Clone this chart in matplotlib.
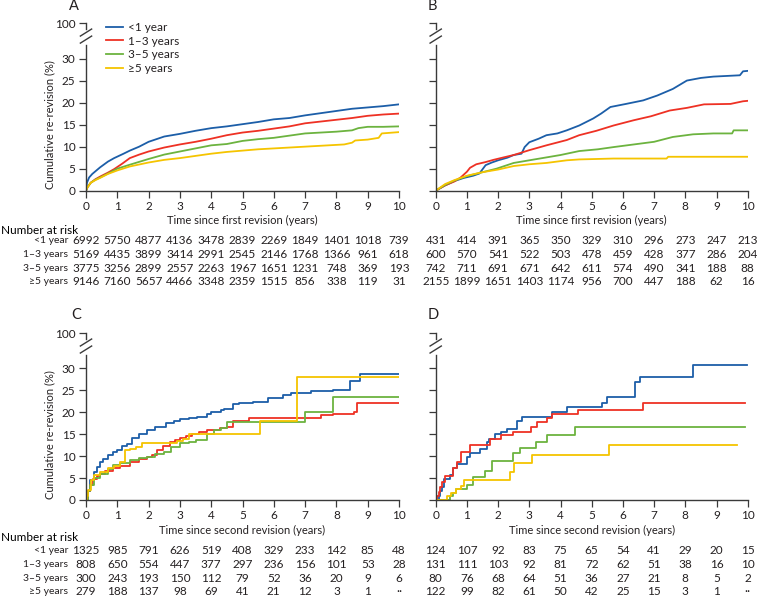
import matplotlib
matplotlib.use('Agg')
import matplotlib.pyplot as plt
import matplotlib.transforms as mtransforms

plt.rcParams['font.family'] = ['Lato', 'DejaVu Sans']

W, H = 757, 598

groups = ['<1 year', '1–3 years', '3–5 years', '≥5 years']
colors = ['#1c5ea8', '#ee3124', '#6cb33f', '#f5c400']
years = list(range(11))

# ---- panel A: time since first revision (curves)
a_lt1_t = [0, 0.03, 0.1, 0.2, 0.3, 0.45, 0.7, 0.9, 1.2, 1.4, 1.7, 2.0, 2.5, 3.0, 3.5, 4.0, 4.5, 5.0, 5.5, 6.0, 6.5, 7.0, 7.5, 8.0, 8.5, 9.0, 9.5, 10.0]
a_lt1_v = [0, 1.8, 3.0, 3.8, 4.4, 5.3, 6.6, 7.4, 8.4, 9.1, 10.0, 11.1, 12.3, 12.9, 13.6, 14.2, 14.6, 15.1, 15.6, 16.2, 16.5, 17.1, 17.6, 18.1, 18.6, 18.9, 19.2, 19.6]
a_1to3_t = [0, 0.05, 0.15, 0.3, 0.45, 0.7, 0.9, 1.15, 1.4, 1.7, 2.0, 2.5, 3.0, 3.5, 4.0, 4.5, 5.0, 5.5, 6.0, 6.5, 7.0, 7.5, 8.0, 8.5, 9.0, 9.5, 10.0]
a_1to3_v = [0, 0.8, 1.8, 2.6, 3.2, 4.1, 4.9, 6.1, 7.4, 8.2, 8.9, 9.8, 10.5, 11.1, 11.8, 12.6, 13.2, 13.6, 14.1, 14.6, 15.3, 15.7, 16.1, 16.5, 17.0, 17.3, 17.5]
a_3to5_t = [0, 0.05, 0.15, 0.3, 0.45, 0.7, 1.0, 1.4, 2.0, 2.5, 3.0, 3.5, 4.0, 4.5, 5.0, 5.5, 6.0, 6.5, 7.0, 7.5, 8.0, 8.5, 8.7, 9.0, 9.5, 10.0]
a_3to5_v = [0, 0.8, 1.8, 2.5, 3.0, 3.9, 5.0, 5.9, 7.2, 8.2, 8.9, 9.6, 10.3, 10.6, 11.3, 11.7, 12.0, 12.5, 13.0, 13.2, 13.4, 13.7, 14.2, 14.5, 14.5, 14.6]
a_ge5_t = [0, 0.05, 0.15, 0.3, 0.45, 0.7, 1.0, 1.4, 2.0, 2.5, 3.0, 3.5, 4.0, 4.5, 5.0, 5.5, 6.0, 6.5, 7.0, 7.5, 8.0, 8.25, 8.5, 8.6, 9.0, 9.35, 9.45, 10.0]
a_ge5_v = [0, 0.8, 1.8, 2.4, 2.9, 3.8, 4.6, 5.5, 6.4, 7.0, 7.4, 7.9, 8.4, 8.8, 9.1, 9.4, 9.6, 9.8, 10.0, 10.2, 10.4, 10.5, 10.9, 11.4, 11.6, 12.0, 13.0, 13.3]

# ---- panel B
b_lt1_t = [0, 0.3, 0.6, 0.9, 1.2, 1.4, 1.6, 1.8, 2.0, 2.3, 2.5, 2.75, 2.85, 3.0, 3.3, 3.55, 3.9, 4.2, 4.6, 5.05, 5.3, 5.6, 6.1, 6.65, 7.1, 7.6, 8.05, 8.5, 8.9, 9.75, 9.85, 10.0]
b_lt1_v = [0, 1.2, 2.2, 2.9, 3.4, 3.9, 5.8, 6.4, 6.9, 7.5, 8.1, 8.4, 9.9, 11.0, 11.8, 12.6, 13.0, 13.7, 14.8, 16.4, 17.5, 19.0, 19.7, 20.5, 21.6, 23.1, 25.0, 25.6, 25.9, 26.2, 27.1, 27.2]
b_1to3_t = [0, 0.3, 0.6, 0.8, 1.0, 1.1, 1.3, 1.6, 1.85, 2.2, 2.5, 3.0, 3.55, 4.2, 4.6, 5.15, 5.7, 6.35, 6.9, 7.5, 8.05, 8.6, 9.45, 9.85, 10.0]
b_1to3_v = [0, 1.2, 2.1, 3.0, 4.3, 5.2, 6.0, 6.5, 7.0, 7.6, 8.1, 9.2, 10.3, 11.5, 12.6, 13.6, 14.8, 16.0, 16.9, 18.2, 18.8, 19.6, 19.7, 20.3, 20.4]
b_3to5_t = [0, 0.3, 0.6, 1.0, 1.5, 1.95, 2.5, 3.0, 3.5, 4.0, 4.6, 5.2, 5.7, 6.35, 7.0, 7.6, 8.25, 8.9, 9.5, 9.55, 10.0]
b_3to5_v = [0, 1.3, 2.3, 3.3, 4.2, 5.0, 6.3, 6.9, 7.5, 8.1, 9.0, 9.4, 9.9, 10.5, 11.1, 12.2, 12.8, 13.0, 13.0, 13.7, 13.7]
b_ge5_t = [0, 0.3, 0.6, 1.0, 1.5, 2.0, 2.5, 3.0, 3.55, 4.2, 4.6, 5.7, 7.4, 7.45, 10.0]
b_ge5_v = [0, 1.5, 2.4, 3.4, 4.2, 4.8, 5.6, 6.0, 6.3, 6.9, 7.1, 7.3, 7.3, 7.7, 7.7]

# ---- panel C: time since second revision (step curves)
c_lt1_t = [0, 0.05, 0.13, 0.25, 0.34, 0.45, 0.55, 0.7, 0.87, 1.0, 1.15, 1.3, 1.46, 1.7, 1.94, 2.2, 2.57, 2.8, 3.0, 3.3, 3.55, 3.85, 4.0, 4.3, 4.4, 4.7, 4.9, 5.35, 5.8, 6.3, 6.55, 7.2, 7.9, 8.45, 8.75, 10.0]
c_lt1_v = [0, 2.0, 4.5, 6.3, 7.6, 8.6, 9.4, 10.2, 11.0, 11.5, 12.2, 12.8, 14.2, 15.0, 15.9, 16.6, 17.5, 17.9, 18.5, 18.7, 19.0, 19.6, 20.0, 20.5, 20.8, 21.9, 22.1, 22.3, 23.2, 23.9, 24.5, 24.9, 25.0, 27.1, 28.8, 28.8]
c_1to3_t = [0, 0.05, 0.12, 0.23, 0.35, 0.45, 0.6, 0.87, 1.1, 1.4, 1.7, 1.94, 2.1, 2.26, 2.45, 2.68, 2.85, 3.0, 3.2, 3.4, 3.6, 3.85, 4.28, 4.5, 4.7, 5.2, 6.55, 7.5, 7.9, 8.55, 8.65, 10.0]
c_1to3_v = [0, 2.0, 3.5, 4.9, 5.4, 6.0, 6.5, 7.2, 7.8, 8.7, 9.3, 9.8, 10.3, 11.3, 12.3, 13.2, 13.7, 14.2, 14.5, 15.1, 15.5, 15.9, 16.3, 16.6, 18.1, 18.6, 18.8, 19.4, 19.6, 20.0, 22.0, 22.0]
c_3to5_t = [0, 0.05, 0.12, 0.25, 0.45, 0.7, 0.87, 1.1, 1.4, 1.7, 1.94, 2.2, 2.5, 2.7, 3.0, 3.3, 3.5, 3.85, 4.1, 4.3, 4.5, 7.0, 7.9, 10.0]
c_3to5_v = [0, 2.0, 3.5, 5.0, 6.0, 7.0, 7.9, 8.4, 9.1, 9.5, 9.8, 10.4, 11.0, 12.0, 13.0, 13.2, 13.6, 15.1, 15.9, 16.3, 17.7, 20.0, 23.5, 23.5]
c_ge5_t = [0, 0.03, 0.07, 0.15, 0.25, 0.45, 0.7, 0.9, 1.1, 1.25, 1.4, 1.6, 1.8, 2.8, 2.9, 3.1, 3.3, 5.57, 6.73, 10.0]
c_ge5_v = [0, 1.0, 2.3, 4.5, 5.7, 6.4, 7.2, 7.7, 8.7, 11.3, 11.7, 12.1, 13.0, 13.0, 13.5, 14.0, 15.0, 18.0, 28.0, 28.0]

# ---- panel D
d_lt1_t = [0, 0.1, 0.15, 0.2, 0.27, 0.46, 0.57, 0.67, 1.0, 1.1, 1.42, 1.63, 1.72, 1.9, 2.1, 2.27, 2.6, 2.78, 3.72, 4.2, 5.32, 5.48, 6.4, 6.55, 8.26, 9.97]
d_lt1_v = [0, 0.8, 2.0, 3.0, 4.7, 5.7, 7.2, 8.3, 9.8, 10.6, 11.7, 13.2, 13.9, 15.1, 15.5, 16.2, 17.9, 19.0, 20.1, 21.1, 22.2, 23.5, 26.8, 28.1, 30.7, 30.7]
d_1to3_t = [0, 0.05, 0.1, 0.15, 0.2, 0.3, 0.57, 0.67, 0.8, 1.1, 1.74, 2.1, 2.47, 3.06, 3.24, 3.56, 3.72, 4.57, 6.65, 9.91]
d_1to3_v = [0, 1.0, 1.9, 3.0, 4.1, 5.4, 7.4, 8.7, 10.9, 12.6, 13.9, 14.8, 15.6, 16.7, 17.7, 18.7, 19.5, 20.6, 22.0, 22.0]
d_3to5_t = [0, 0.46, 0.55, 0.65, 1.0, 1.2, 1.58, 1.8, 2.47, 2.7, 3.2, 3.58, 4.47, 9.92]
d_3to5_v = [0, 0.8, 1.5, 2.4, 3.5, 5.3, 6.5, 9.0, 10.6, 11.9, 13.2, 14.8, 16.6, 16.6]
d_ge5_t = [0, 0.35, 0.5, 0.65, 0.8, 0.9, 2.38, 2.5, 3.1, 5.55, 9.67]
d_ge5_v = [0, 0.8, 1.6, 2.5, 3.3, 4.5, 6.4, 8.5, 10.3, 12.6, 12.6]

# ---- number at risk
a_risk_lt1 = [6992, 5750, 4877, 4136, 3478, 2839, 2269, 1849, 1401, 1018, 739]
a_risk_1to3 = [5169, 4435, 3899, 3414, 2991, 2545, 2146, 1768, 1366, 961, 618]
a_risk_3to5 = [3775, 3256, 2899, 2557, 2263, 1967, 1651, 1231, 748, 369, 193]
a_risk_ge5 = [9146, 7160, 5657, 4466, 3348, 2359, 1515, 856, 338, 119, 31]
b_risk_lt1 = [431, 414, 391, 365, 350, 329, 310, 296, 273, 247, 213]
b_risk_1to3 = [600, 570, 541, 522, 503, 478, 459, 428, 377, 286, 204]
b_risk_3to5 = [742, 711, 691, 671, 642, 611, 574, 490, 341, 188, 88]
b_risk_ge5 = [2155, 1899, 1651, 1403, 1174, 956, 700, 447, 188, 62, 16]
c_risk_lt1 = [1325, 985, 791, 626, 519, 408, 329, 233, 142, 85, 48]
c_risk_1to3 = [808, 650, 554, 447, 377, 297, 236, 156, 101, 53, 28]
c_risk_3to5 = [300, 243, 193, 150, 112, 79, 52, 36, 20, 9, 6]
c_risk_ge5 = [279, 188, 137, 98, 69, 41, 21, 12, 3, 1, '··']
d_risk_lt1 = [124, 107, 92, 83, 75, 65, 54, 41, 29, 20, 15]
d_risk_1to3 = [131, 111, 103, 92, 81, 72, 62, 51, 38, 16, 10]
d_risk_3to5 = [80, 76, 68, 64, 51, 36, 27, 21, 8, 5, 2]
d_risk_ge5 = [122, 99, 82, 61, 50, 42, 25, 15, 3, 1, '··']

YTOP = 38.0          # where the "100" tick sits above the axis break
TXT = '#231f20'
AXC = '#3a3a3a'


def fy(py):
    return 1 - py / H


fig = plt.figure(figsize=(W / 100, H / 100), dpi=100)
ax_a = fig.add_axes([86 / W, fy(190.7), 313 / W, 167.4 / H])
ax_b = fig.add_axes([435.7 / W, fy(190.7), 312 / W, 167.4 / H])
ax_c = fig.add_axes([86 / W, fy(500), 313 / W, 166.7 / H])
ax_d = fig.add_axes([435.7 / W, fy(500), 312 / W, 166.7 / H])


def draw_panel(ax, curves, step, xlabel, xlabel_py, letter, letter_px, show_ylabels):
    for (t, v), c, lab in zip(curves, colors, groups):
        if step:
            ax.step(t, v, where='post', color=c, lw=1.3, label=lab)
        else:
            ax.plot(t, v, color=c, lw=1.3, label=lab)

    ax.set_xlim(0, 10)
    ax.set_ylim(0, YTOP)
    for s in ['top', 'right']:
        ax.spines[s].set_visible(False)
    for s in ['left', 'bottom']:
        ax.spines[s].set_color(AXC)
        ax.spines[s].set_linewidth(1.0)
    ax.spines['left'].set_bounds(0, 33.0)

    # broken y axis: short upper piece + two slashes
    bt = mtransforms.blended_transform_factory(ax.transAxes, ax.transData)
    ax.plot([0, 0], [36.6, YTOP], color=AXC, lw=1.0, transform=bt, clip_on=False)
    for yc in (34.3, 35.9):
        ax.plot([-0.018, 0.018], [yc - 0.8, yc + 0.8], color=AXC, lw=1.0,
                transform=bt, clip_on=False)

    ax.set_xticks(years)
    ax.set_yticks([0, 5, 10, 15, 20, 25, 30, YTOP])
    ax.tick_params(direction='out', length=5, width=0.9, color=AXC,
                   labelsize=8.5, labelcolor=TXT, pad=2.5)
    if show_ylabels:
        ax.set_yticklabels(['0', '5', '10', '15', '20', '25', '30', '100'])
        ax.text(-0.115, 15, 'Cumulative re-revision (%)', transform=bt,
                rotation=90, ha='center', va='center', fontsize=8, color=TXT)
    else:
        ax.set_yticklabels([])

    xt = mtransforms.blended_transform_factory(ax.transData, fig.transFigure)
    ax.text(5, fy(xlabel_py), xlabel, transform=xt, ha='center', va='center',
            fontsize=8, color=TXT)
    fig.text(letter_px[0] / W, fy(letter_px[1]), letter, ha='left', va='center',
             fontsize=10.5, color=TXT)


def draw_risk(ax, rows, header_py, row_py, show_labels):
    xt = mtransforms.blended_transform_factory(ax.transData, fig.transFigure)
    if show_labels:
        fig.text(0.001, fy(header_py), 'Number at risk', ha='left', va='center',
                 fontsize=8.5, color='black')
    for row, lab, py in zip(rows, groups, row_py):
        if show_labels:
            fig.text(68 / W, fy(py), lab, ha='right', va='center', fontsize=7.5, color=TXT)
        for x, n in zip(years, row):
            ax.text(x, fy(py), str(n), transform=xt, ha='center', va='center',
                    fontsize=8.5, color=TXT)


draw_panel(ax_a, [(a_lt1_t, a_lt1_v), (a_1to3_t, a_1to3_v), (a_3to5_t, a_3to5_v), (a_ge5_t, a_ge5_v)],
           False, 'Time since first revision (years)', 220, 'A', (69, 6), True)
draw_panel(ax_b, [(b_lt1_t, b_lt1_v), (b_1to3_t, b_1to3_v), (b_3to5_t, b_3to5_v), (b_ge5_t, b_ge5_v)],
           False, 'Time since first revision (years)', 220, 'B', (428, 6), False)
draw_panel(ax_c, [(c_lt1_t, c_lt1_v), (c_1to3_t, c_1to3_v), (c_3to5_t, c_3to5_v), (c_ge5_t, c_ge5_v)],
           True, 'Time since second revision (years)', 530, 'C', (71, 315), True)
draw_panel(ax_d, [(d_lt1_t, d_lt1_v), (d_1to3_t, d_1to3_v), (d_3to5_t, d_3to5_v), (d_ge5_t, d_ge5_v)],
           True, 'Time since second revision (years)', 530, 'D', (428, 315), False)

ab_rows = [240.7, 254.3, 268.3, 281.7]
cd_rows = [550.7, 564.3, 578.3, 591.7]
draw_risk(ax_a, [a_risk_lt1, a_risk_1to3, a_risk_3to5, a_risk_ge5], 230, ab_rows, True)
draw_risk(ax_b, [b_risk_lt1, b_risk_1to3, b_risk_3to5, b_risk_ge5], 230, ab_rows, False)
draw_risk(ax_c, [c_risk_lt1, c_risk_1to3, c_risk_3to5, c_risk_ge5], 537.3, cd_rows, True)
draw_risk(ax_d, [d_risk_lt1, d_risk_1to3, d_risk_3to5, d_risk_ge5], 537.3, cd_rows, False)

ax_a.legend(loc='upper left', bbox_to_anchor=(0.064, 1.008), frameon=False,
            fontsize=8.5, handlelength=1.45, handletextpad=0.4, labelspacing=0.22,
            borderpad=0, borderaxespad=0, labelcolor=TXT)

fig.savefig('out.png', dpi=100)
